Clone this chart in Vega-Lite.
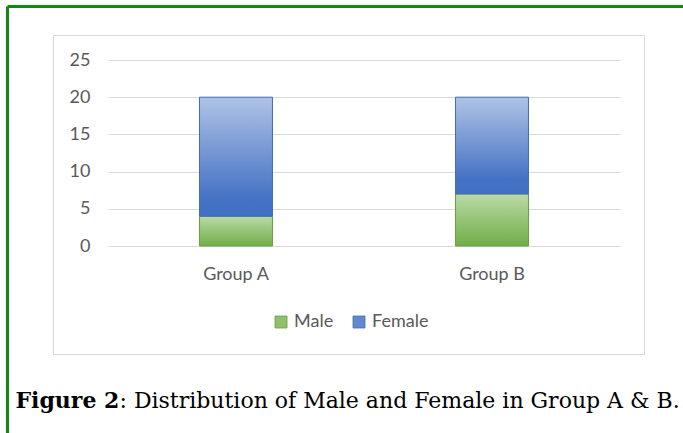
{
  "$schema": "https://vega.github.io/schema/vega-lite/v6.json",
  "width": 591,
  "height": 319,
  "autosize": {"type": "none"},
  "padding": {"left": 53, "top": 35, "right": 39, "bottom": 79},
  "background": "white",
  "config": {
    "view": {"stroke": "#d9d9d9", "strokeWidth": 1},
    "axis": {"labelFont": "Lato", "labelFontSize": 18, "labelColor": "#595959"}
  },
  "data": {
    "values": [
      {"group": "Group A", "gender": "Male", "count": 4},
      {"group": "Group A", "gender": "Female", "count": 16},
      {"group": "Group B", "gender": "Male", "count": 7},
      {"group": "Group B", "gender": "Female", "count": 13}
    ]
  },
  "resolve": {
    "scale": {"x": "independent", "y": "independent"},
    "axis": {"x": "independent", "y": "independent"}
  },
  "layer": [
    {
      "mark": {"type": "bar", "strokeWidth": 1},
      "encoding": {
        "x": {
          "field": "group",
          "type": "nominal",
          "sort": ["Group A", "Group B"],
          "scale": {"range": [55, 567], "paddingInner": 0.715, "paddingOuter": 0.3575},
          "axis": {
            "orient": "bottom",
            "labelAngle": 0,
            "labelPadding": -89,
            "domain": false,
            "ticks": false,
            "labelOverlap": false,
            "title": ": Distribution of Male and Female in Group A & B.",
            "titleX": 66,
            "titleY": 53,
            "titleAlign": "left",
            "titleAnchor": null,
            "titleBaseline": "alphabetic",
            "titleFont": "DejaVu Serif",
            "titleFontSize": 22,
            "titleFontWeight": "normal",
            "titleColor": "#000000"
          }
        },
        "y": {
          "field": "count",
          "type": "quantitative",
          "stack": "zero",
          "scale": {"domain": [0, 25], "range": [211, 25], "nice": false, "zero": true},
          "axis": {
            "orient": "left",
            "values": [0, 5, 10, 15, 20, 25],
            "grid": true,
            "gridColor": "#d9d9d9",
            "gridWidth": 1,
            "domain": false,
            "ticks": false,
            "labelPadding": -37,
            "labelOverlap": false,
            "title": "Figure 2",
            "titleAngle": 0,
            "titleX": -38,
            "titleY": 372,
            "titleAlign": "left",
            "titleAnchor": null,
            "titleBaseline": "alphabetic",
            "titleFont": "DejaVu Serif",
            "titleFontSize": 22,
            "titleFontWeight": "bold",
            "titleColor": "#000000"
          }
        },
        "order": {"field": "gender", "sort": "descending"},
        "fill": {
          "field": "gender",
          "type": "nominal",
          "scale": {"domain": ["Male", "Female"], "range": ["#8fc06c", "#6388cf"]},
          "condition": [
            {"test": "datum.gender === 'Male'", "value": {"gradient": "linear", "x1": 0, "y1": 0, "x2": 0, "y2": 1, "stops": [{"offset": 0, "color": "#bcdaa8"}, {"offset": 1, "color": "#70ad47"}]}},
            {"test": "datum.gender === 'Female'", "value": {"gradient": "linear", "x1": 0, "y1": 0, "x2": 0, "y2": 1, "stops": [{"offset": 0, "color": "#b0c3e6"}, {"offset": 0.85, "color": "#4472c4"}, {"offset": 1, "color": "#4270c2"}]}}
          ],
          "legend": {
            "orient": "none",
            "legendX": 219,
            "legendY": 278,
            "direction": "horizontal",
            "title": null,
            "symbolType": "square",
            "symbolSize": 144,
            "symbolStrokeWidth": 0.8,
            "labelFont": "Lato",
            "labelFontSize": 18,
            "labelColor": "#595959",
            "labelOffset": 4,
            "columnPadding": 16
          }
        },
        "stroke": {
          "field": "gender",
          "type": "nominal",
          "scale": {"domain": ["Male", "Female"], "range": ["#66a040", "#3e6dc0"]},
          "legend": null
        }
      }
    },
    {
      "mark": {"type": "point", "opacity": 0},
      "encoding": {
        "x": {
          "datum": 0,
          "type": "quantitative",
          "scale": {"domain": [0, 1], "range": [-46, 650], "nice": false, "zero": false},
          "axis": {"orient": "top", "offset": 29, "domainColor": "#118811", "domainWidth": 3, "labels": false, "ticks": false, "grid": false, "title": null}
        },
        "y": {
          "datum": 0,
          "type": "quantitative",
          "scale": {"domain": [0, 1], "range": [-29, 420], "nice": false, "zero": false},
          "axis": {"orient": "left", "offset": 46, "domainColor": "#118811", "domainWidth": 3, "labels": false, "ticks": false, "grid": false, "title": null}
        }
      }
    }
  ]
}
